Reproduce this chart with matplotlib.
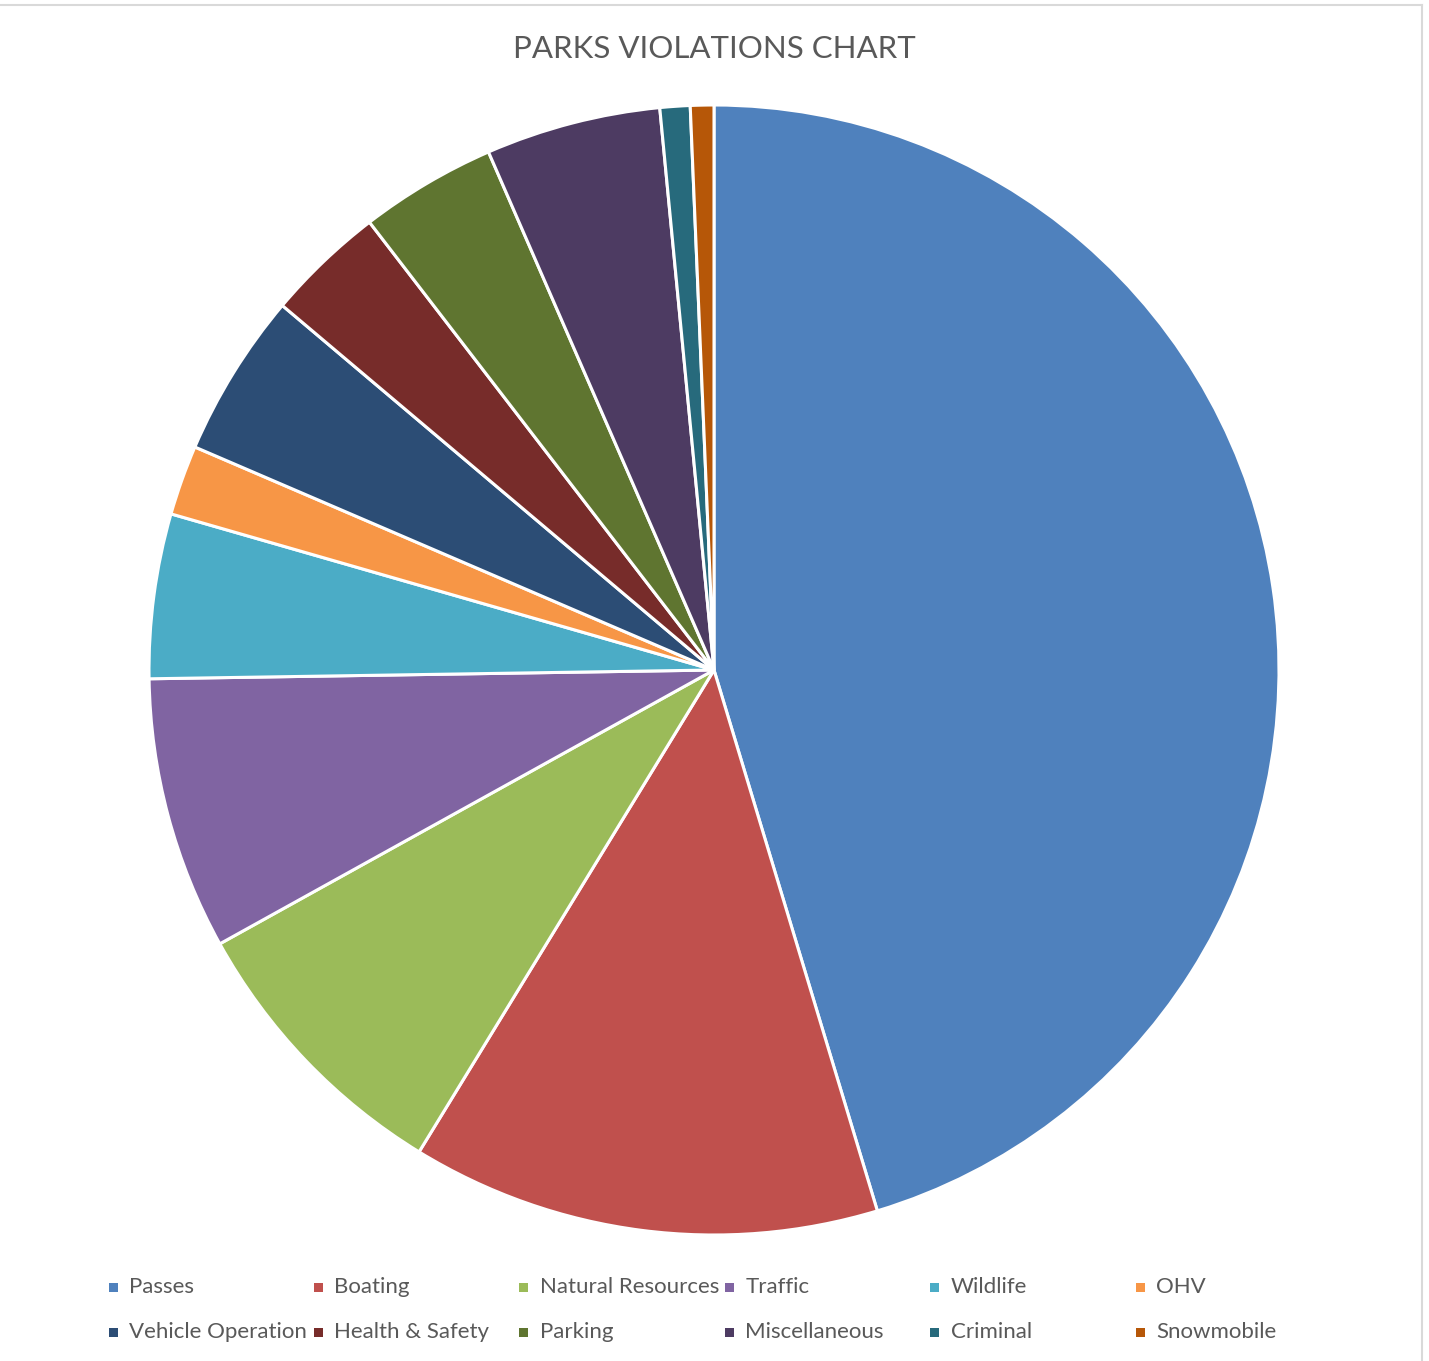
import matplotlib
matplotlib.use("Agg")
import matplotlib.pyplot as plt
from matplotlib.patches import Rectangle

categories = ["Passes", "Boating", "Natural Resources", "Traffic", "Wildlife", "OHV",
              "Vehicle Operation", "Health & Safety", "Parking", "Miscellaneous",
              "Criminal", "Snowmobile"]
values = [45.3, 13.4, 8.2, 7.8, 4.7, 2.0, 4.7, 3.4, 3.9, 5.0, 0.86, 0.67]
colors = ["#4F81BD", "#C0504D", "#9BBB59", "#8064A2", "#4BACC6", "#F79646",
          "#2C4D75", "#772C2A", "#5F7530", "#4D3B62", "#276A7C", "#B65708"]
title = "PARKS VIOLATIONS CHART"

W, H = 1429, 1361
fig = plt.figure(figsize=(W / 100, H / 100), dpi=100)
fig.patch.set_facecolor("white")

cx, cy, r = 714, 670, 565
ax = fig.add_axes([(cx - r) / W, 1 - (cy + r) / H, 2 * r / W, 2 * r / H])
ax.pie(values, colors=colors, startangle=90, counterclock=False,
       wedgeprops=dict(edgecolor="white", linewidth=2.2, joinstyle="miter"))
ax.set_xlim(-1, 1)
ax.set_ylim(-1, 1)
ax.set_aspect("equal")
ax.axis("off")

font = "Lato"
fig.text(714 / W, 1 - 49 / H, title, ha="center", va="center",
         fontsize=22.5, color="#595959", family=font)

# legend (manual)
x0, dx = 113, 205.4
rows_y = [1287, 1332]
for i, (cat, col) in enumerate(zip(categories, colors)):
    row, c = divmod(i, 6)
    mx = x0 + dx * c
    my = rows_y[row]
    s = 9
    fig.patches.append(Rectangle(((mx - s / 2) / W, 1 - (my + s / 2) / H), s / W, s / H,
                                 transform=fig.transFigure, facecolor=col,
                                 edgecolor="none"))
    fig.text((mx + 16) / W, 1 - my / H, cat, ha="left", va="center",
             fontsize=16, color="#595959", family=font)

# chart border
fig.add_artist(plt.Line2D([0, 1422 / W], [1 - 5 / H, 1 - 5 / H], color="#D9D9D9",
                          linewidth=1.5, transform=fig.transFigure))
fig.add_artist(plt.Line2D([1422 / W, 1422 / W], [0, 1 - 5 / H], color="#D9D9D9",
                          linewidth=1.5, transform=fig.transFigure))

fig.savefig("out.png", dpi=100, facecolor="white")
